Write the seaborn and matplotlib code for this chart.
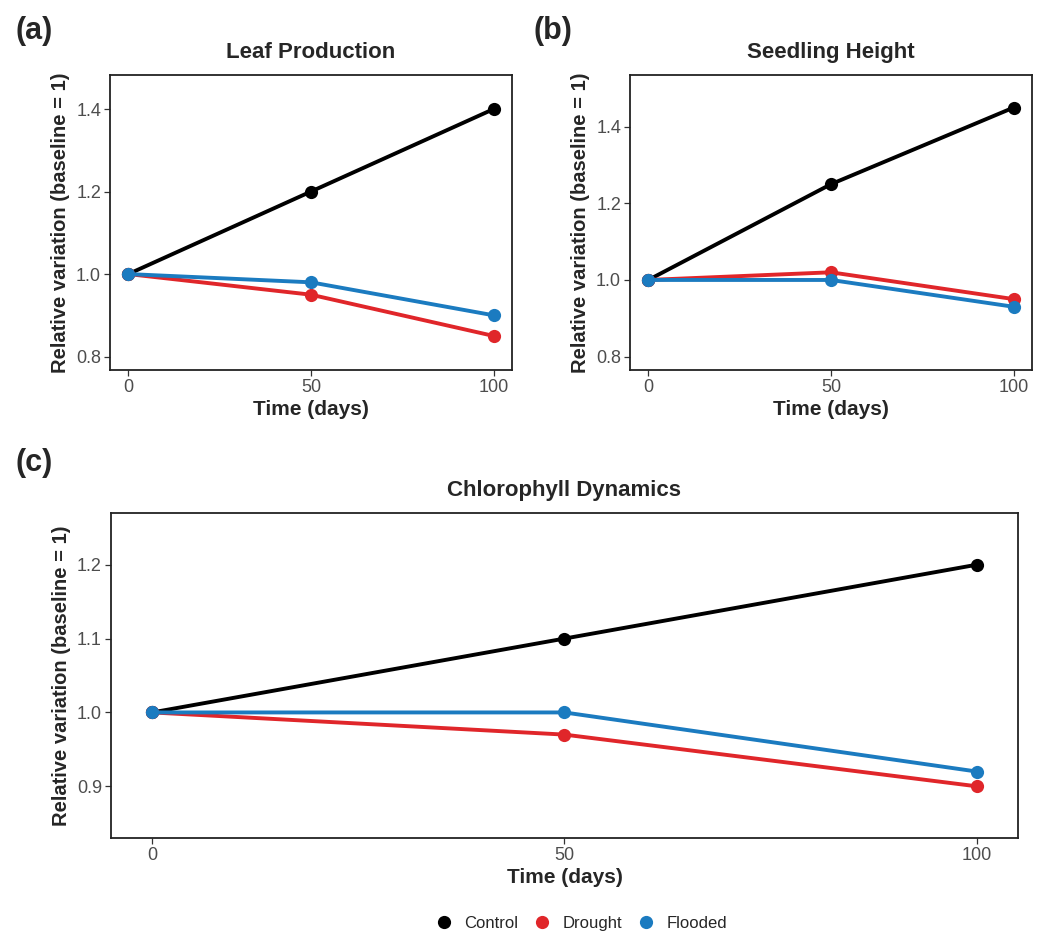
import matplotlib
matplotlib.use("Agg")
import matplotlib.pyplot as plt
from matplotlib.lines import Line2D
import seaborn as sns
import pandas as pd

days = [0, 50, 100]
treatments = ["Control", "Drought", "Flooded"]
colors = {"Control": "#000000", "Drought": "#E0262A", "Flooded": "#1B7BC0"}

leaf_control = [1.00, 1.20, 1.40]
leaf_drought = [1.00, 0.95, 0.85]
leaf_flooded = [1.00, 0.98, 0.90]

height_control = [1.00, 1.25, 1.45]
height_drought = [1.00, 1.02, 0.95]
height_flooded = [1.00, 1.00, 0.93]

chl_control = [1.00, 1.10, 1.20]
chl_drought = [1.00, 0.97, 0.90]
chl_flooded = [1.00, 1.00, 0.92]

leaf_yticks = [0.8, 1.0, 1.2, 1.4]
height_yticks = [0.8, 1.0, 1.2, 1.4]
chl_yticks = [0.9, 1.0, 1.1, 1.2]


def make_df(c, d, f):
    rows = []
    for name, vals in zip(treatments, [c, d, f]):
        for t, v in zip(days, vals):
            rows.append({"Time": t, "Value": v, "Treatment": name})
    return pd.DataFrame(rows)


sns.set_theme(style="white")
plt.rcParams["font.family"] = ["Liberation Sans", "DejaVu Sans"]

fig = plt.figure(figsize=(10.4, 9.36), dpi=100)
ax_a = fig.add_axes([0.1058, 0.6047, 0.3865, 0.3152])
ax_b = fig.add_axes([0.6058, 0.6047, 0.3865, 0.3152])
ax_c = fig.add_axes([0.1067, 0.1047, 0.8721, 0.3472])

panels = [
    (ax_a, make_df(leaf_control, leaf_drought, leaf_flooded), "Leaf Production", leaf_yticks, (0.7675, 1.4825)),
    (ax_b, make_df(height_control, height_drought, height_flooded), "Seedling Height", height_yticks, (0.765, 1.535)),
    (ax_c, make_df(chl_control, chl_drought, chl_flooded), "Chlorophyll Dynamics", chl_yticks, (0.83, 1.27)),
]

for ax, df, title, yt, ylim in panels:
    sns.lineplot(data=df, x="Time", y="Value", hue="Treatment", hue_order=treatments,
                 palette=colors, marker="o", markersize=9.5, markeredgewidth=0,
                 linewidth=2.8, ax=ax, legend=False)
    ax.set_xlim(-5, 105)
    ax.set_ylim(*ylim)
    ax.set_xticks(days)
    ax.set_yticks(yt)
    ax.set_yticklabels([f"{v:.1f}" for v in yt])
    ax.set_title(title, fontsize=16, fontweight="bold", pad=12)
    ax.set_xlabel("Time (days)", fontsize=15, fontweight="bold", labelpad=3)
    ax.set_ylabel("Relative variation (baseline = 1)", fontsize=14.5, fontweight="bold", labelpad=4)
    ax.tick_params(axis="both", which="major", labelsize=13, labelcolor="#4D4D4D",
                   direction="out", length=4, width=0.9, color="#333333", pad=2.5,
                   bottom=True, left=True)
    for s in ax.spines.values():
        s.set_color("#222222")
        s.set_linewidth(1.3)

fig.text(0.015, 0.967, "(a)", fontsize=22, fontweight="bold", va="center", ha="left")
fig.text(0.513, 0.967, "(b)", fontsize=22, fontweight="bold", va="center", ha="left")
fig.text(0.015, 0.505, "(c)", fontsize=22, fontweight="bold", va="center", ha="left")

handles = [Line2D([0], [0], marker="o", linestyle="none", markersize=9.5,
                  markerfacecolor=colors[t], markeredgewidth=0) for t in treatments]
fig.legend(handles, treatments, loc="center", bbox_to_anchor=(0.557, 0.013),
           ncol=3, frameon=False, fontsize=12, handletextpad=0.45, columnspacing=0.7,
           handlelength=1.5)

fig.savefig("out.png", dpi=100, facecolor="white")
